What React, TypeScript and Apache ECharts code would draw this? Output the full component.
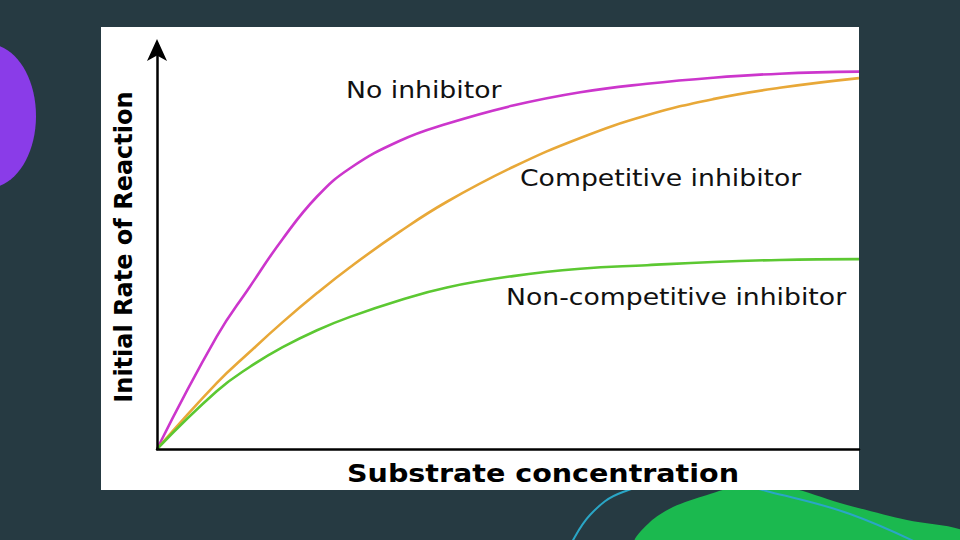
import React, { useEffect, useRef } from "react";
import * as echarts from "echarts";

const xValues = [0, 8.5, 13.2, 17.9, 22.8, 27.5, 34.6, 41.3, 50.7, 60.3, 69.8, 79.2, 88.7, 100];
const noInhibitor = [0, 27.8, 40.1, 52.0, 62.5, 69.5, 76.3, 80.5, 85.0, 88.3, 90.4, 91.9, 92.9, 93.4];
const competitive = [0, 16.3, 24.0, 31.4, 38.6, 45.0, 53.8, 61.2, 69.8, 77.0, 82.6, 86.6, 89.4, 91.8];
const nonCompetitive = [0, 14.3, 20.3, 25.2, 29.4, 32.7, 36.8, 40.0, 42.8, 44.6, 45.5, 46.3, 46.8, 47.0];
const seriesNames = ["No inhibitor", "Competitive inhibitor", "Non-competitive inhibitor"];
const xAxisTitle = "Substrate concentration";
const yAxisTitle = "Initial Rate of Reaction";

const FONT = "'Comic Sans MS', 'DejaVu Sans', sans-serif";

export default function App() {
  const ref = useRef<HTMLDivElement>(null);
  useEffect(() => {
    if (!ref.current) return;
    const chart = echarts.init(ref.current, null, { renderer: "svg" });
    const pair = (ys: number[]) => xValues.map((x, i) => [x, ys[i]]);
    const lineSeries = (name: string, ys: number[], color: string) => ({
      type: "line",
      name,
      data: pair(ys),
      smooth: 0.45,
      showSymbol: false,
      symbol: "none",
      lineStyle: { color, width: 2.6 },
      z: 5,
    });
    const label = (text: string, x: number, y: number) => ({
      type: "text",
      x,
      y,
      scaleX: 1.16,
      style: { text, fill: "#111", fontSize: 23, fontFamily: FONT, verticalAlign: "middle" },
      z: 3,
    });
    chart.setOption({
      animation: false,
      backgroundColor: "#263a42",
      grid: { left: 157, right: 101, top: 45, bottom: 91 },
      xAxis: {
        type: "value",
        min: 0,
        max: 100,
        z: 10,
        axisLine: { show: true, lineStyle: { color: "#000", width: 2.5 } },
        axisTick: { show: false },
        axisLabel: { show: false },
        splitLine: { show: false },
      },
      yAxis: {
        type: "value",
        min: 0,
        max: 100,
        z: 10,
        axisLine: {
          show: true,
          symbol: ["none", "arrow"],
          symbolSize: [15, 22],
          symbolOffset: [0, 6],
          lineStyle: { color: "#000", width: 2.5 },
        },
        axisTick: { show: false },
        axisLabel: { show: false },
        splitLine: { show: false },
        name: yAxisTitle,
        nameLocation: "middle",
        nameGap: 21,
        nameTextStyle: { color: "#000", fontSize: 24, fontWeight: "bold", fontFamily: FONT },
      },
      graphic: [
        { type: "ellipse", shape: { cx: -12, cy: 116, rx: 48, ry: 72 }, style: { fill: "#8a3ce8" }, z: 0 },
        {
          type: "polygon",
          shape: {
            points: [[636, 542], [650, 522], [673, 507], [707, 495], [740, 486], [790, 488], [840, 503], [907, 520], [962, 530], [962, 542]],
            smooth: 0.3,
          },
          style: { fill: "#1bb94f" },
          z: 0,
        },
        {
          type: "polyline",
          shape: { points: [[568, 550], [590, 515], [623, 492], [700, 476], [770, 492], [850, 514], [932, 550]], smooth: 0.4 },
          style: { stroke: "#2aa6c6", lineWidth: 2, fill: "none" },
          z: 0,
        },
        { type: "rect", shape: { x: 101, y: 27, width: 758, height: 463 }, style: { fill: "#ffffff" }, z: 1 },
        label(seriesNames[0], 346, 90),
        label(seriesNames[1], 520, 178),
        label(seriesNames[2], 506, 297),
        {
          type: "text",
          x: 543,
          y: 474,
          scaleX: 1.19,
          style: { text: xAxisTitle, fill: "#000", fontSize: 24, fontWeight: "bold", fontFamily: FONT, align: "center", verticalAlign: "middle" },
          z: 3,
        },
      ],
      series: [
        lineSeries(seriesNames[0], noInhibitor, "#cc36cc"),
        lineSeries(seriesNames[1], competitive, "#e8a838"),
        lineSeries(seriesNames[2], nonCompetitive, "#5cc832"),
      ],
    });
    return () => chart.dispose();
  }, []);
  return <div ref={ref} style={{ position: "fixed", left: 0, top: 0, width: 960, height: 540 }} />;
}
